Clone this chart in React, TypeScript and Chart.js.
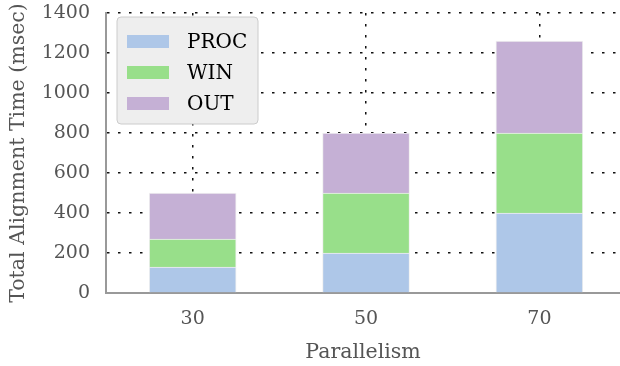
import React, { useEffect, useRef } from "react";
import { Chart, registerables } from "chart.js";

Chart.register(...registerables);

const categories = [30, 50, 70];
const procValues = [130, 200, 400];
const winValues = [140, 300, 400];
const outValues = [230, 300, 460];
const yTicks = [0, 200, 400, 600, 800, 1000, 1200, 1400];
const seriesNames = ["PROC", "WIN", "OUT"];
const seriesColors = ["#aec7e8", "#98df8a", "#c5b0d5"];

const FONT = "'DejaVu Serif', serif";

const legendPlugin = {
  id: "insideLegend",
  afterDraw(chart: any) {
    const ctx = chart.ctx;
    const x = 117, y = 17, w = 141, h = 107, r = 4;
    ctx.save();
    ctx.beginPath();
    ctx.moveTo(x + r, y);
    ctx.lineTo(x + w - r, y);
    ctx.quadraticCurveTo(x + w, y, x + w, y + r);
    ctx.lineTo(x + w, y + h - r);
    ctx.quadraticCurveTo(x + w, y + h, x + w - r, y + h);
    ctx.lineTo(x + r, y + h);
    ctx.quadraticCurveTo(x, y + h, x, y + h - r);
    ctx.lineTo(x, y + r);
    ctx.quadraticCurveTo(x, y, x + r, y);
    ctx.closePath();
    ctx.fillStyle = "#eeeeee";
    ctx.fill();
    ctx.strokeStyle = "#cccccc";
    ctx.lineWidth = 1;
    ctx.stroke();
    chart.data.datasets.forEach((ds: any, i: number) => {
      const cy = 41.5 + i * 31;
      ctx.fillStyle = ds.backgroundColor;
      ctx.fillRect(127, cy - 6.5, 42, 13);
      ctx.fillStyle = "#000";
      ctx.font = `20px ${FONT}`;
      ctx.textBaseline = "middle";
      ctx.textAlign = "left";
      ctx.fillText(ds.label, 187, cy + 1);
    });
    ctx.restore();
  },
};

export default function App() {
  const ref = useRef<HTMLCanvasElement | null>(null);
  useEffect(() => {
    if (!ref.current) return;
    const series = [procValues, winValues, outValues];
    const chart = new Chart(ref.current, {
      type: "bar",
      data: {
        datasets: series.map((vals, i) => ({
          label: seriesNames[i],
          data: categories.map((c, j) => ({ x: c, y: vals[j] })),
          backgroundColor: seriesColors[i],
          borderColor: "#f0f0f0",
          borderWidth: 1,
          barThickness: 87,
        })),
      },
      options: {
        animation: false,
        responsive: true,
        maintainAspectRatio: false,
        layout: { padding: { top: 13, right: 0, left: 0, bottom: 0 } },
        plugins: { legend: { display: false }, tooltip: { enabled: false } },
        scales: {
          x: {
            type: "linear",
            stacked: true,
            offset: false,
            min: 20,
            max: 79.3,
            afterBuildTicks: (scale: any) => {
              scale.ticks = categories.map((v) => ({ value: v }));
            },
            afterFit: (scale: any) => {
              scale.height = 73;
              scale.paddingLeft = 0;
              scale.paddingRight = 0;
            },
            ticks: {
              color: "#555",
              font: { family: FONT, size: 19 },
              padding: 15,
              callback: (v: any) => String(v),
            },
            grid: { color: "#111", lineWidth: 1.5, drawTicks: false, offset: false },
            border: { display: true, color: "#999", width: 2, dash: [2.5, 8.5] },
            title: {
              display: true,
              text: "Parallelism",
              color: "#555",
              font: { family: FONT, size: 20.5 },
              padding: { top: 0, bottom: 1 },
            },
          },
          y: {
            stacked: true,
            min: 0,
            max: 1400,
            afterBuildTicks: (scale: any) => {
              scale.ticks = yTicks.map((v) => ({ value: v }));
            },
            afterFit: (scale: any) => {
              scale.width = 106;
              scale.paddingTop = 0;
              scale.paddingBottom = 0;
            },
            ticks: {
              color: "#555",
              font: { family: FONT, size: 19 },
              padding: 16,
              callback: (v: any) => String(v),
            },
            grid: { color: "#111", lineWidth: 1.5, drawTicks: false },
            border: { display: true, color: "#999", width: 2, dash: [2.5, 8.5] },
            title: {
              display: true,
              text: "Total Alignment Time (msec)",
              color: "#555",
              font: { family: FONT, size: 20.5 },
              padding: { top: 6, bottom: 0 },
            },
          },
        },
      },
      plugins: [legendPlugin],
    } as any);
    return () => chart.destroy();
  }, []);
  return (
    <div style={{ position: "fixed", left: 0, top: 0, width: 620, height: 366 }}>
      <canvas ref={ref} style={{ display: "block" }} />
    </div>
  );
}
